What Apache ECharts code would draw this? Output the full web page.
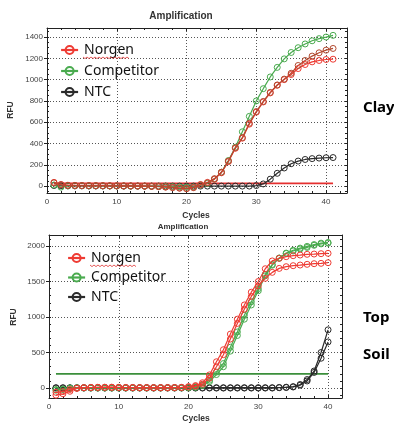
<!DOCTYPE html>
<html><head><meta charset="utf-8">
<script src="https://cdn.jsdelivr.net/npm/echarts@6/dist/echarts.min.js"></script>
<style>html,body{margin:0;padding:0;background:#fff}#c{width:394px;height:424px}</style>
</head><body><div id="c"></div>
<script>
// ---------- Clay (top chart) ----------
const clayCycles = [1,2,3,4,5,6,7,8,9,10,11,12,13,14,15,16,17,18,19,20,21,22,23,24,25,26,27,28,29,30,31,32,33,34,35,36,37,38,39,40,41];
const clayNorgenA = [35,15,8,6,5,5,4,4,3,3,2,2,1,0,-2,-4,-8,-12,-18,-22,-12,15,35,65,125,230,355,450,582,695,790,875,947,1000,1048,1104,1142,1167,1180,1189,1192];
const clayNorgenB = [30,12,6,5,4,4,3,3,2,2,1,1,0,-1,-3,-6,-10,-15,-20,-25,-15,10,30,70,130,235,360,455,590,700,795,880,950,1005,1060,1133,1180,1221,1252,1277,1293];
const clayCompetitor = [10,-10,2,3,3,2,2,2,1,1,1,0,0,0,-1,-2,-3,-5,-8,-10,-8,10,25,65,130,240,365,510,655,800,915,1025,1115,1195,1255,1300,1335,1365,1385,1400,1416];
const clayNTC = [5,3,2,2,2,1,1,1,1,1,0,0,0,0,0,0,0,0,0,0,0,0,0,0,0,0,0,0,0,5,20,65,120,170,210,235,250,258,263,266,268];
const clayThresholdX = [1,41];
const clayThresholdY = [25,25];
const clayYLabels = [0,200,400,600,800,1000,1200,1400];
const clayXLabels = [0,10,20,30,40];

// ---------- Top Soil (bottom chart) ----------
const soilCycles = [1,2,3,4,5,6,7,8,9,10,11,12,13,14,15,16,17,18,19,20,21,22,23,24,25,26,27,28,29,30,31,32,33,34,35,36,37,38,39,40];
const soilNorgenA = [-100,-80,-45,-5,5,8,10,12,12,10,8,8,6,6,5,5,6,8,10,20,35,75,185,370,540,760,970,1170,1350,1500,1680,1790,1826,1850,1864,1873,1883,1887,1892,1897];
const soilNorgenB = [-60,-50,-20,0,5,8,10,10,10,8,6,6,5,5,5,5,5,6,8,15,25,55,140,300,470,690,910,1110,1290,1440,1545,1629,1685,1709,1723,1732,1742,1751,1756,1765];
const soilCompetitorA = [-20,-15,0,3,3,3,2,2,2,2,2,2,2,2,2,2,3,3,4,5,15,45,110,225,345,575,790,1025,1215,1400,1600,1740,1830,1895,1930,1958,1980,2010,2030,2040];
const soilCompetitorB = [-30,-20,-5,2,2,2,2,2,2,2,2,2,2,2,2,2,2,3,3,4,10,35,90,190,300,520,740,970,1170,1370,1580,1730,1830,1900,1940,1970,1995,2020,2040,2050];
const soilNTCA = [5,5,5,5,5,5,5,5,5,5,5,5,5,5,5,5,5,5,5,5,5,5,5,5,5,5,5,5,5,5,5,5,8,12,20,50,120,240,500,820];
const soilNTCB = [0,0,0,0,0,0,0,0,0,0,0,0,0,0,0,0,0,0,0,0,0,0,0,0,0,0,0,0,0,0,0,0,5,8,15,40,100,220,420,650];
const soilThresholdX = [1,40];
const soilThresholdY = [200,200];
const soilYLabels = [0,500,1000,1500,2000];
const soilXLabels = [0,10,20,30,40];

const legendNames = ['Norgen','Competitor','NTC'];

const RED = '#ee3b33', BROWN = '#b24a30', GREEN = '#4aab4f', BLACK = '#2a2a2a';
const FONT = 'Liberation Sans';

function pairs(xs, ys){ return xs.map((x,i)=>[x, ys[i]]); }
function lineSeries(name, xs, ys, color, xi, yi, z){
  return {type:'line', name, xAxisIndex:xi, yAxisIndex:yi, data:pairs(xs,ys),
    symbol:'circle', symbolSize:6, showSymbol:true, clip:false,
    lineStyle:{color, width:1.2},
    itemStyle:{color:'rgba(255,255,255,0)', borderColor:color, borderWidth:1},
    emphasis:{disabled:true}, z: z||2};
}
function thrSeries(name, xs, ys, color, xi, yi){
  return {type:'line', name, xAxisIndex:xi, yAxisIndex:yi, data:pairs(xs,ys),
    symbol:'none', lineStyle:{color, width:1.6}, emphasis:{disabled:true}, z:1};
}
function minorVals(min, max, step){ const a=[]; for(let v=Math.ceil(min/step)*step; v<=max; v+=step) a.push(v); return a; }
const plain = v => String(v);

function xAxes(grid, max, labels){
  const base = {type:'value', gridIndex:grid, min:0, max, interval:10,
    axisLine:{show:true, onZero:false, lineStyle:{color:'#222', width:1}},
    axisTick:{show:true, inside:true, length:3, lineStyle:{color:'#222'}},
    minorTick:{show:true, splitNumber:5, length:2, lineStyle:{color:'#222'}}};
  return [
    Object.assign({}, base, {position:'bottom',
      axisLabel:{show:true, fontSize:8, color:'#444', fontFamily:FONT, margin:5, customValues:labels, formatter:plain},
      splitLine:{show:true, lineStyle:{color:'#555', type:[1,2], width:1}}}),
    Object.assign({}, base, {position:'top', axisLabel:{show:false}, splitLine:{show:false}})
  ];
}
function yAxes(grid, min, max, split, labels, minorStep){
  return [
    {type:'value', gridIndex:grid, min, max, splitNumber:split, position:'left',
      axisLine:{show:true, onZero:false, lineStyle:{color:'#222'}},
      axisTick:{show:true, inside:false, length:3, customValues:labels, lineStyle:{color:'#222'}},
      axisLabel:{show:true, fontSize:8, color:'#444', fontFamily:FONT, margin:4, customValues:labels, formatter:plain},
      splitLine:{show:true, lineStyle:{color:'#555', type:[1,2], width:1}}},
    {type:'value', gridIndex:grid, min, max, position:'right',
      axisLine:{show:true, onZero:false, lineStyle:{color:'#222'}},
      axisTick:{show:true, inside:true, length:2, customValues:minorVals(min,max,minorStep), lineStyle:{color:'#222'}},
      axisLabel:{show:false}, splitLine:{show:false}},
    {type:'value', gridIndex:grid, min, max, position:'left',
      axisLine:{show:false},
      axisTick:{show:true, inside:true, length:2, customValues:minorVals(min,max,minorStep), lineStyle:{color:'#222'}},
      axisLabel:{show:false}, splitLine:{show:false}}
  ];
}

function squiggle(x0, x1, y){
  const pts=[]; let up=true;
  for(let x=x0; x<=x1; x+=2){ pts.push([x, up? y : y+1.6]); up=!up; }
  return {type:'polyline', shape:{points:pts}, style:{stroke:'#e03030', lineWidth:0.8, fill:null}, z:100};
}
function txt(x, y, text, size, opts){
  return Object.assign({type:'text', x, y, style:{text, font:'bold '+size+'px '+(opts&&opts.family||FONT), fill:(opts&&opts.fill)||'#333', align:(opts&&opts.align)||'center', verticalAlign:'middle'}, z:100}, opts&&opts.rot?{rotation:Math.PI/2}:{});
}

const legendText = {fontSize:14, fontFamily:'Noto Sans', color:'#111', padding:[0,0,0,1]};
const chart = echarts.init(document.getElementById('c'), null, {renderer:'canvas'});
chart.setOption({
  animation:false,
  backgroundColor:'#fff',
  grid:[
    {left:47, top:28, width:300, height:165},
    {left:49, top:235, width:293, height:163}
  ],
  xAxis:[...xAxes(0, 43, clayXLabels), ...xAxes(1, 42, soilXLabels)],
  yAxis:[...yAxes(0, -65, 1485, 8, clayYLabels, 50), ...yAxes(1, -140, 2155, 5, soilYLabels, 100)],
  legend:[
    {orient:'vertical', left:55, top:38, itemWidth:17, itemHeight:10, itemGap:7, selectedMode:false,
     data:legendNames, textStyle:legendText, itemStyle:{borderWidth:2}, lineStyle:{width:2.2}},
    {orient:'vertical', left:62, top:246, itemWidth:17, itemHeight:10, itemGap:5.5, selectedMode:false,
     data:legendNames, textStyle:legendText, itemStyle:{borderWidth:2}, lineStyle:{width:2.2}}
  ],
  series:[
    thrSeries('clayThreshold', clayThresholdX, clayThresholdY, '#e53030', 0, 0),
    lineSeries('NTC', clayCycles, clayNTC, BLACK, 0, 0, 2),
    lineSeries('Competitor', clayCycles, clayCompetitor, GREEN, 0, 0, 3),
    lineSeries('Norgen', clayCycles, clayNorgenA, RED, 0, 0, 4),
    lineSeries('NorgenB', clayCycles, clayNorgenB, BROWN, 0, 0, 4),

    thrSeries('soilThreshold', soilThresholdX, soilThresholdY, '#3b8f3b', 2, 3),
    lineSeries('NTC', soilCycles, soilNTCA, BLACK, 2, 3, 2),
    lineSeries('NTC', soilCycles, soilNTCB, BLACK, 2, 3, 2),
    lineSeries('Competitor', soilCycles, soilCompetitorA, GREEN, 2, 3, 3),
    lineSeries('Competitor', soilCycles, soilCompetitorB, GREEN, 2, 3, 3),
    lineSeries('Norgen', soilCycles, soilNorgenA, RED, 2, 3, 4),
    lineSeries('Norgen', soilCycles, soilNorgenB, RED, 2, 3, 4)
  ],
  graphic:[
    txt(181, 16, 'Amplification', 10),
    txt(196, 216, 'Cycles', 8.5),
    txt(11, 110, 'RFU', 8.5, {rot:true}),
    txt(183, 227, 'Amplification', 8),
    txt(196, 419, 'Cycles', 8.5),
    txt(14, 317, 'RFU', 8.5, {rot:true}),
    txt(363, 108, 'Clay', 15, {family:'Noto Sans', fill:'#000', align:'left'}),
    txt(363, 318, 'Top', 15, {family:'Noto Sans', fill:'#000', align:'left'}),
    txt(363, 355, 'Soil', 15, {family:'Noto Sans', fill:'#000', align:'left'}),
    squiggle(83, 130, 57),
    squiggle(90, 137, 265)
  ]
});
</script></body></html>
